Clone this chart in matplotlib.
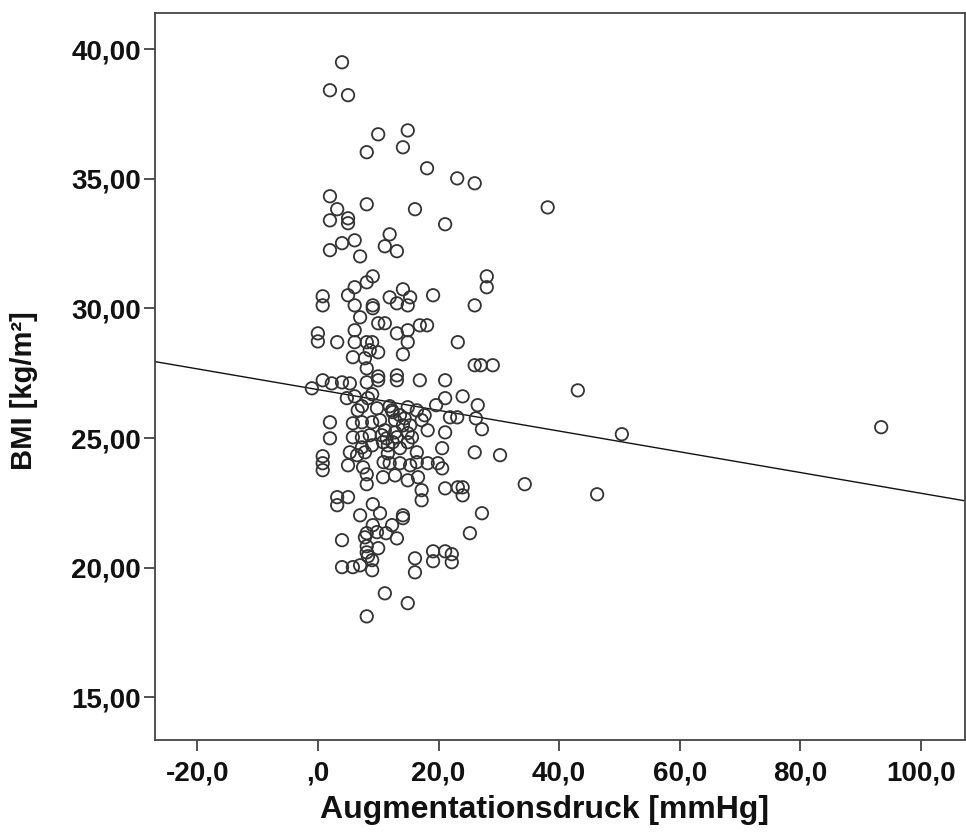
import matplotlib
matplotlib.use("Agg")
import matplotlib.pyplot as plt
import numpy as np

# Augmentationsdruck [mmHg]
aug = [
    4.0, 2.0, 5.0, 14.9, 10.0, 14.1, 8.1, 18.1, 23.1, 26.0,
    2.0, 8.1, 38.1, 3.2, 16.1, 2.0, 5.0, 5.0, 21.1, 11.9,
    4.0, 6.1, 11.1, 2.0, 13.1, 7.0, 9.1, 28.0, 28.0, 8.1,
    6.1, 14.1, 5.0, 0.8, 0.8, 6.1, 9.1, 9.1, 11.9, 13.1,
    15.3, 14.9, 19.1, 26.0, 7.0, 10.0, 11.1, 16.9, 18.1, 6.1,
    14.9, 13.1, 0.0, 0.0, 3.2, 6.1, 8.1, 9.0, 14.9, 23.2,
    8.6, 10.0, 14.1, 5.8, 7.8, 8.1, 26.0, 27.0, 29.0, 21.1,
    16.9, 13.1, 13.1, 10.0, 10.0, 8.1, 0.8, -1.0, 2.3, 4.0,
    5.3, 4.8, 6.1, 9.0, 7.3, 9.8, 11.9, 12.4, 13.6, 14.9,
    16.4, 17.7, 19.6, 21.1, 24.0, 26.5, 21.9, 23.1, 26.2, 2.0,
    5.8, 7.3, 9.0, 11.1, 12.8, 15.3, 17.2, 18.2, 27.2, 2.0,
    5.8, 7.3, 8.6, 10.6, 13.1, 14.9, 21.1, 7.3, 9.0, 10.8,
    12.4, 14.9, 20.6, 0.8, 0.8, 0.8, 5.3, 7.8, 11.6, 16.4,
    26.0, 30.2, 5.0, 6.5, 7.5, 8.1, 8.1, 10.8, 12.8, 11.9,
    13.6, 15.3, 16.4, 18.2, 19.9, 20.6, 14.9, 16.6, 17.2, 17.2,
    21.1, 23.2, 24.0, 24.0, 3.2, 3.2, 5.0, 9.1, 10.3, 7.0,
    14.1, 14.1, 12.3, 9.1, 8.1, 9.8, 11.3, 13.1, 4.0, 7.8,
    8.1, 8.1, 8.3, 10.0, 4.0, 5.8, 7.0, 9.0, 9.0, 16.1,
    16.1, 19.1, 19.1, 21.1, 22.2, 22.2, 25.2, 27.2, 11.1, 14.9,
    8.1, 43.1, 50.4, 93.4, 34.3, 46.3,
    12.8, 14.1, 11.6, 13.6, 12.3, 14.4, 11.4, 15.6, 10.3, 6.6,
    8.3, 10.9,
]

# BMI [kg/m²]
bmi = [
    39.50, 38.42, 38.23, 36.87, 36.72, 36.22, 36.03, 35.41, 35.02, 34.83,
    34.33, 34.02, 33.90, 33.83, 33.83, 33.40, 33.48, 33.29, 33.25, 32.86,
    32.52, 32.63, 32.40, 32.25, 32.21, 32.01, 31.24, 31.24, 30.82, 31.01,
    30.82, 30.74, 30.51, 30.47, 30.12, 30.12, 30.12, 30.01, 30.43, 30.20,
    30.43, 30.12, 30.51, 30.12, 29.66, 29.43, 29.43, 29.35, 29.35, 29.16,
    29.16, 29.04, 29.04, 28.73, 28.70, 28.70, 28.70, 28.70, 28.70, 28.70,
    28.39, 28.31, 28.23, 28.12, 28.08, 27.69, 27.81, 27.81, 27.81, 27.23,
    27.23, 27.42, 27.23, 27.38, 27.23, 27.15, 27.23, 26.92, 27.11, 27.15,
    27.11, 26.54, 26.61, 26.69, 26.23, 26.15, 26.23, 26.00, 25.88, 26.19,
    26.07, 25.88, 26.27, 26.54, 26.61, 26.27, 25.80, 25.80, 25.76, 25.61,
    25.57, 25.61, 25.61, 25.30, 25.22, 25.49, 25.69, 25.30, 25.34, 24.99,
    25.03, 25.03, 25.11, 25.11, 25.03, 25.19, 25.22, 24.64, 24.72, 24.84,
    24.84, 24.84, 24.61, 24.30, 24.03, 23.76, 24.45, 24.45, 24.41, 24.45,
    24.45, 24.34, 23.95, 24.34, 23.87, 23.60, 23.22, 23.49, 23.56, 24.03,
    24.03, 23.95, 24.07, 24.03, 24.03, 23.83, 23.37, 23.49, 22.99, 22.60,
    23.06, 23.10, 23.10, 22.79, 22.72, 22.41, 22.72, 22.45, 22.10, 22.02,
    22.02, 21.91, 21.64, 21.64, 21.33, 21.37, 21.33, 21.13, 21.06, 21.17,
    20.83, 20.59, 20.44, 20.75, 20.02, 20.02, 20.09, 20.29, 19.90, 20.36,
    19.82, 20.63, 20.25, 20.63, 20.52, 20.21, 21.33, 22.10, 19.01, 18.63,
    18.12, 26.84, 25.15, 25.42, 23.22, 22.83,
    25.69, 25.49, 24.72, 24.61, 26.07, 25.76, 24.99, 25.03, 25.69, 26.07,
    26.54, 24.07,
]

# Linear fit line
fit_intercept = 26.87
fit_slope = -0.0400

x_ticks = [-20, 0, 20, 40, 60, 80, 100]
x_ticklabels = ["-20,0", ",0", "20,0", "40,0", "60,0", "80,0", "100,0"]
y_ticks = [15, 20, 25, 30, 35, 40]
y_ticklabels = ["15,00", "20,00", "25,00", "30,00", "35,00", "40,00"]
x_label = "Augmentationsdruck [mmHg]"
y_label = "BMI [kg/m²]"

plt.rcParams['font.family'] = ['Liberation Sans', 'DejaVu Sans']

fig = plt.figure(figsize=(9.66, 8.34), dpi=100)
ax = fig.add_axes([0.1605, 0.1127, 0.8385, 0.8717])

xlim = (-27.0, 107.3)
ylim = (13.35, 41.4)
ax.set_xlim(*xlim)
ax.set_ylim(*ylim)

ax.scatter(aug, bmi, s=80, facecolors='none', edgecolors='#333333',
           linewidths=1.3, zorder=3)

xx = np.array(xlim)
ax.plot(xx, fit_intercept + fit_slope * xx, color='#111111', lw=1.0, zorder=2)

ax.set_xticks(x_ticks)
ax.set_xticklabels(x_ticklabels)
ax.set_yticks(y_ticks)
ax.set_yticklabels(y_ticklabels)

for lab in ax.get_xticklabels() + ax.get_yticklabels():
    lab.set_fontweight('bold')
    lab.set_fontsize(20)
    lab.set_color('#111111')

ax.tick_params(axis='both', direction='out', length=8, width=1.2,
               color='#333333')
ax.tick_params(axis='y', pad=2)
ax.tick_params(axis='x', pad=7)

for sp in ax.spines.values():
    sp.set_color('#444444')
    sp.set_linewidth(1.3)

ax.set_xlabel(x_label, fontsize=23, fontweight='bold', color='#111111')
ax.xaxis.set_label_coords(0.481, -0.075, transform=ax.transAxes)
ax.xaxis.label.set_va('top')
ax.set_ylabel(y_label, fontsize=21, fontweight='bold', color='#111111')
ax.yaxis.set_label_coords(-0.145, 0.48, transform=ax.transAxes)

fig.savefig("out.png", dpi=100)
